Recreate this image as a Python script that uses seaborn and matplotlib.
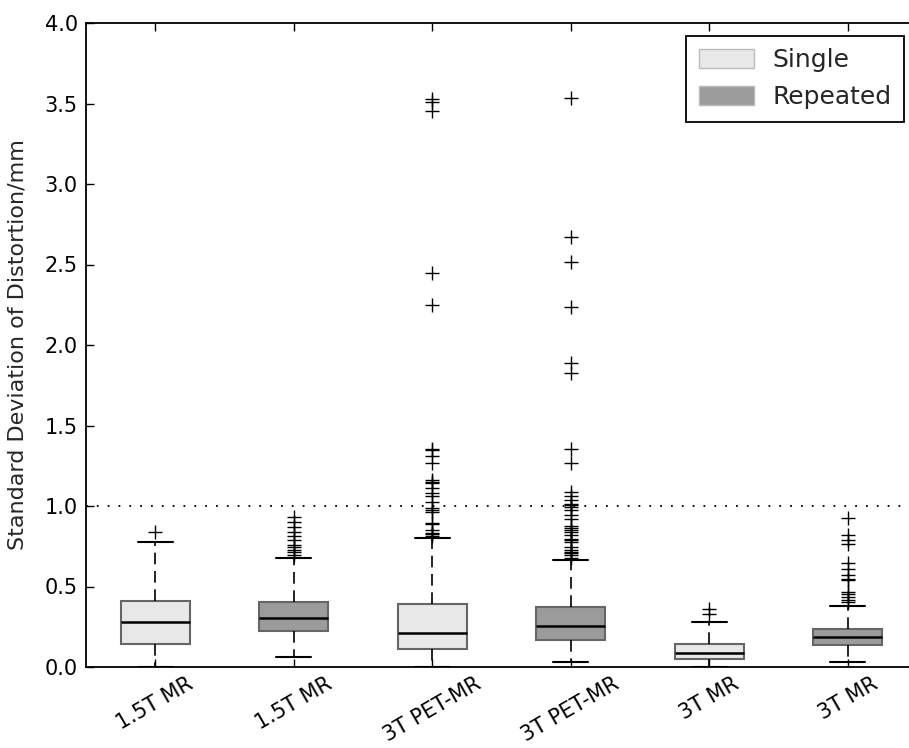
import pandas as pd
import matplotlib.pyplot as plt
import seaborn as sns
from matplotlib.patches import Patch

# Valores (mm)
groups = ['1.5T MR', '1.5T MR', '3T PET-MR', '3T PET-MR', '3T MR', '3T MR']
sequences = ['Single', 'Repeated', 'Single', 'Repeated', 'Single', 'Repeated']

whisker_low = [0.000, 0.065, 0.000, 0.029, 0.000, 0.031]
q1 = [0.145, 0.222, 0.112, 0.170, 0.048, 0.137]
medians = [0.282, 0.305, 0.214, 0.255, 0.089, 0.189]
q3 = [0.413, 0.406, 0.390, 0.371, 0.145, 0.239]
whisker_high = [0.775, 0.674, 0.800, 0.667, 0.282, 0.379]

fliers_15_single = [0.837]
fliers_15_repeated = [0.694, 0.715, 0.725, 0.746, 0.756, 0.787, 0.812, 0.839, 0.870, 0.901, 0.932]
fliers_pet_single = [0.812, 0.825, 0.833, 0.850, 0.891, 0.895, 0.963, 0.978, 0.990, 1.026,
                     1.061, 1.082, 1.109, 1.140, 1.146, 1.160, 1.270, 1.310, 1.347, 1.357,
                     2.246, 2.449, 3.454, 3.512, 3.526]
fliers_pet_repeated = [0.680, 0.694, 0.705, 0.715, 0.725, 0.746, 0.777, 0.787, 0.798, 0.818,
                       0.839, 0.850, 0.866, 0.874, 0.922, 0.943, 0.974, 0.994, 1.005, 1.015,
                       1.040, 1.061, 1.088, 1.268, 1.357, 1.823, 1.886, 2.237, 2.515, 2.672, 3.532]
fliers_3t_single = [0.330, 0.360]
fliers_3t_repeated = [0.404, 0.415, 0.435, 0.456, 0.466, 0.539, 0.549, 0.570, 0.611, 0.643,
                      0.763, 0.787, 0.818, 0.926]
fliers = [fliers_15_single, fliers_15_repeated, fliers_pet_single,
          fliers_pet_repeated, fliers_3t_single, fliers_3t_repeated]

colors = {'Single': '#e8e8e8', 'Repeated': '#9b9b9b'}


# Monta uma amostra que reproduz os quartis, os bigodes e os outliers lidos
def build_sample(lo, a, m, b, hi, out):
    k = len(out) + 2
    return [lo] + [a] * k + [m] * k + [b] * k + [hi] * 2 + list(out)


rows = []
for i in range(len(groups)):
    sample = build_sample(whisker_low[i], q1[i], medians[i], q3[i], whisker_high[i], fliers[i])
    for v in sample:
        rows.append({'slot': str(i), 'Sequence': sequences[i], 'value': v})
df = pd.DataFrame(rows)

sns.set_style('ticks')
plt.rcParams['font.family'] = ['DejaVu Sans']

fig = plt.figure(figsize=(9.09, 7.48), dpi=100)
ax = fig.add_axes([86 / 909, 81 / 748, 831 / 909, 644 / 748])

sns.boxplot(data=df, x='slot', y='value', hue='Sequence', order=[str(i) for i in range(6)],
            hue_order=['Single', 'Repeated'], palette=colors, dodge=False, width=0.5,
            whis=1.5, linecolor='#666666', linewidth=1.5, legend=False, ax=ax,
            whiskerprops={'color': 'black', 'linestyle': (0, (7, 4)), 'linewidth': 1.2},
            capprops={'color': 'black', 'linewidth': 1.5},
            medianprops={'color': 'black', 'linewidth': 1.8},
            flierprops={'marker': '+', 'markersize': 10, 'markeredgecolor': 'black',
                        'markeredgewidth': 1.0})

# Linha pontilhada em 1 mm
ax.axhline(1.0, color='black', linestyle=(0, (1, 5)), linewidth=1.3)

ax.set_xlim(-0.5, 5.5)
ax.set_ylim(0, 4.0)
ax.set_yticks([0, 0.5, 1.0, 1.5, 2.0, 2.5, 3.0, 3.5, 4.0])
ax.set_yticklabels([f'{t:.1f}' for t in ax.get_yticks()])
ax.set_xticks(range(6))
ax.set_xticklabels(groups, rotation=30)
ax.set_xlabel('')
ax.set_ylabel('Standard Deviation of Distortion/mm', fontsize=16)
ax.yaxis.set_label_coords(-0.07, 0.5)

ax.tick_params(direction='in', length=6, width=1, top=True, right=False, labelsize=15,
               colors='black', pad=6)
ax.tick_params(axis='x', pad=5)
for spine in ax.spines.values():
    spine.set_visible(True)
    spine.set_linewidth(1.3)
    spine.set_color('black')
ax.spines['right'].set_visible(False)

handles = [Patch(facecolor=colors[s], edgecolor='#bbbbbb', label=s) for s in ['Single', 'Repeated']]
leg = ax.legend(handles=handles, loc='upper right', bbox_to_anchor=(904 / 909, 1 - 36 / 748),
                bbox_transform=fig.transFigure, borderaxespad=0, fontsize=18, fancybox=False,
                framealpha=1, edgecolor='black', handlelength=2.2, handleheight=0.8,
                handletextpad=0.75, borderpad=0.5, labelspacing=0.5)
leg.get_frame().set_linewidth(1.3)

fig.savefig('out.png', dpi=100)
